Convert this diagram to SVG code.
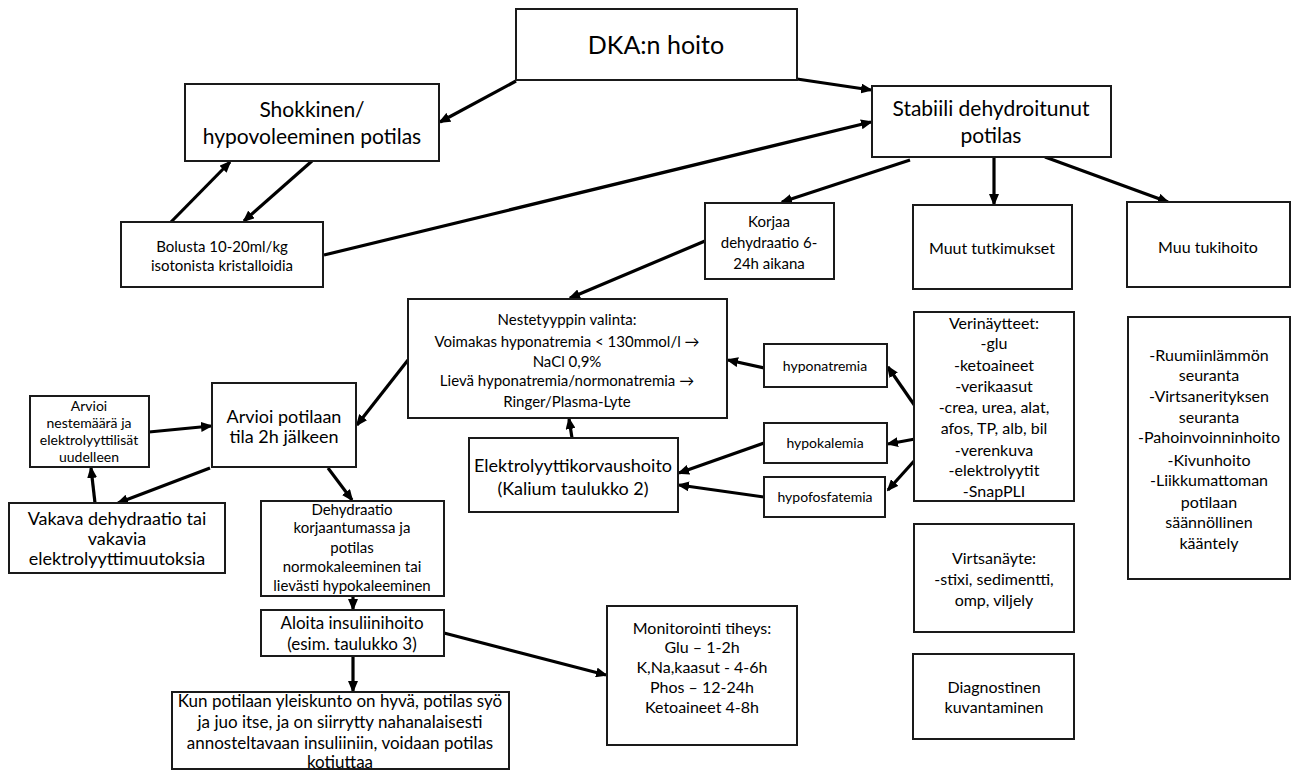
<svg xmlns="http://www.w3.org/2000/svg" width="1296" height="771" viewBox="0 0 1296 771">
<defs>
<marker id="ah" markerUnits="userSpaceOnUse" markerWidth="12" markerHeight="10" refX="10" refY="5" orient="auto">
<path d="M0,0 L12,5 L0,10 z" fill="#000"/>
</marker>
<style>
rect{fill:#fff;stroke:#1a1a1a;stroke-width:2}
text{font-family:Lato,"Liberation Sans",sans-serif;fill:#000;text-anchor:middle}
.c line{stroke:#000;stroke-width:3.2;marker-end:url(#ah)}
.f25{font-size:25px}.f21{font-size:21px}.f18{font-size:18px}.f17{font-size:17px}.f16{font-size:16px}.f15{font-size:15px}.f14{font-size:14px}
</style>
</defs>
<rect x="0" y="0" width="1296" height="771" style="fill:#fff;stroke:none"/>
<g class="c" id="connectors">
<line x1="516" y1="81" x2="440" y2="122"/>
<line x1="797" y1="79" x2="871" y2="90"/>
<line x1="312" y1="161" x2="244" y2="221"/>
<line x1="171" y1="222" x2="230" y2="162"/>
<line x1="324" y1="255" x2="871" y2="122"/>
<line x1="910" y1="160" x2="782" y2="202"/>
<line x1="994" y1="157" x2="994" y2="204"/>
<line x1="1045" y1="157" x2="1168" y2="202"/>
<line x1="705" y1="241" x2="570" y2="298"/>
<line x1="408" y1="360" x2="357" y2="425"/>
<line x1="149" y1="432" x2="211" y2="426"/>
<line x1="210" y1="468" x2="118" y2="503"/>
<line x1="95" y1="503" x2="91" y2="468"/>
<line x1="328" y1="468" x2="352" y2="500"/>
<line x1="353" y1="596" x2="353" y2="609"/>
<line x1="353" y1="656" x2="353" y2="691"/>
<line x1="444" y1="633" x2="606" y2="675"/>
<line x1="764" y1="368" x2="728" y2="360"/>
<line x1="572" y1="438" x2="569" y2="419"/>
<line x1="764" y1="443" x2="679" y2="473"/>
<line x1="764" y1="497" x2="679" y2="485"/>
<line x1="915" y1="406" x2="888" y2="367"/>
<line x1="915" y1="439" x2="888" y2="444"/>
<line x1="915" y1="460" x2="888" y2="490"/>
</g>
<g id="dka"><rect x="516" y="9" width="281" height="71"/><text class="f25" x="656" y="54">DKA:n hoito</text></g>
<g id="shokkinen"><rect x="185" y="84" width="254" height="77"/><text class="f21" x="312" y="117">Shokkinen/</text><text class="f21" x="312" y="144">hypovoleeminen potilas</text></g>
<g id="stabiili"><rect x="872" y="86" width="239" height="71"/><text class="f21" x="991" y="116">Stabiili dehydroitunut</text><text class="f21" x="991" y="143">potilas</text></g>
<g id="bolusta"><rect x="121" y="222" width="202" height="65"/><text class="f15" x="222" y="252">Bolusta 10-20ml/kg</text><text class="f15" x="222" y="271">isotonista kristalloidia</text></g>
<g id="korjaa"><rect x="705" y="203" width="129" height="76"/><text class="f15" x="769" y="227">Korjaa</text><text class="f15" x="769" y="248">dehydraatio 6-</text><text class="f15" x="769" y="269">24h aikana</text></g>
<g id="muut"><rect x="913" y="205" width="159" height="84"/><text class="f16" x="992" y="254">Muut tutkimukset</text></g>
<g id="muutuki"><rect x="1127" y="202" width="163" height="85"/><text class="f16" x="1208" y="253">Muu tukihoito</text></g>
<g id="nestetyyppi"><rect x="408" y="299" width="319" height="119"/>
<text class="f15" x="567" y="325">Nestetyyppin valinta:</text>
<text class="f15" x="567" y="347">Voimakas hyponatremia &lt; 130mmol/l →</text>
<text class="f15" x="567" y="367">NaCl 0,9%</text>
<text class="f15" x="567" y="386">Lievä hyponatremia/normonatremia →</text>
<text class="f15" x="567" y="407">Ringer/Plasma-Lyte</text></g>
<g id="hyponatremia"><rect x="764" y="344" width="123" height="43"/><text class="f14" x="825" y="371">hyponatremia</text></g>
<g id="hypokalemia"><rect x="764" y="423" width="123" height="40"/><text class="f14" x="825" y="448">hypokalemia</text></g>
<g id="hypofosfatemia"><rect x="764" y="477" width="121" height="40"/><text class="f14" x="825" y="502">hypofosfatemia</text></g>
<g id="elektrolyytti"><rect x="469" y="438" width="209" height="74"/><text class="f18" x="573" y="472">Elektrolyyttikorvaushoito</text><text class="f18" x="573" y="495">(Kalium taulukko 2)</text></g>
<g id="verinaytteet"><rect x="914" y="312" width="160" height="189"/>
<text class="f16" x="994" y="329">Verinäytteet:</text>
<text class="f16" x="994" y="349">-glu</text>
<text class="f16" x="994" y="371">-ketoaineet</text>
<text class="f16" x="994" y="392">-verikaasut</text>
<text class="f16" x="994" y="413">-crea, urea, alat,</text>
<text class="f16" x="994" y="434">afos, TP, alb, bil</text>
<text class="f16" x="994" y="456">-verenkuva</text>
<text class="f16" x="994" y="476">-elektrolyytit</text>
<text class="f16" x="994" y="497">-SnapPLI</text></g>
<g id="tukihoito"><rect x="1128" y="317" width="162" height="262"/>
<text class="f16" x="1209" y="361">-Ruumiinlämmön</text>
<text class="f16" x="1209" y="381">seuranta</text>
<text class="f16" x="1209" y="402">-Virtsanerityksen</text>
<text class="f16" x="1209" y="423">seuranta</text>
<text class="f16" x="1209" y="443">-Pahoinvoinninhoito</text>
<text class="f16" x="1209" y="466">-Kivunhoito</text>
<text class="f16" x="1209" y="486">-Liikkumattoman</text>
<text class="f16" x="1209" y="508">potilaan</text>
<text class="f16" x="1209" y="528">säännöllinen</text>
<text class="f16" x="1209" y="549">kääntely</text></g>
<g id="arvioineste"><rect x="30" y="396" width="119" height="71"/>
<text class="f14" x="89" y="411">Arvioi</text>
<text class="f14" x="89" y="428">nestemäärä ja</text>
<text class="f14" x="89" y="445">elektrolyyttilisät</text>
<text class="f14" x="89" y="462">uudelleen</text></g>
<g id="arvioipotilas"><rect x="212" y="383" width="144" height="84"/><text class="f18" x="284" y="423">Arvioi potilaan</text><text class="f18" x="284" y="443">tila 2h jälkeen</text></g>
<g id="vakava"><rect x="9" y="503" width="216" height="70"/><text class="f18" x="117" y="525">Vakava dehydraatio tai</text><text class="f18" x="117" y="545">vakavia</text><text class="f18" x="117" y="565">elektrolyyttimuutoksia</text></g>
<g id="dehydraatio"><rect x="261" y="501" width="183" height="95"/>
<text class="f15" x="352" y="515">Dehydraatio</text>
<text class="f15" x="352" y="533">korjaantumassa ja</text>
<text class="f15" x="352" y="553">potilas</text>
<text class="f15" x="352" y="572">normokaleeminen tai</text>
<text class="f15" x="352" y="591">lievästi hypokaleeminen</text></g>
<g id="aloita"><rect x="261" y="610" width="183" height="46"/><text class="f17" x="352" y="629">Aloita insuliinihoito</text><text class="f17" x="352" y="650">(esim. taulukko 3)</text></g>
<g id="kun"><rect x="172" y="692" width="337" height="77"/>
<text class="f17" x="340" y="707">Kun potilaan yleiskunto on hyvä, potilas syö</text>
<text class="f17" x="340" y="728">ja juo itse, ja on siirrytty nahanalaisesti</text>
<text class="f17" x="340" y="749">annosteltavaan insuliiniin, voidaan potilas</text>
<text class="f17" x="340" y="768">kotiuttaa</text></g>
<g id="monitorointi"><rect x="607" y="606" width="190" height="139"/>
<text class="f16" x="702" y="634">Monitorointi tiheys:</text>
<text class="f16" x="702" y="653">Glu – 1-2h</text>
<text class="f16" x="702" y="673">K,Na,kaasut - 4-6h</text>
<text class="f16" x="702" y="693">Phos – 12-24h</text>
<text class="f16" x="702" y="713">Ketoaineet 4-8h</text></g>
<g id="virtsanayte"><rect x="914" y="524" width="160" height="108"/>
<text class="f16" x="994" y="564">Virtsanäyte:</text>
<text class="f16" x="994" y="585">-stixi, sedimentti,</text>
<text class="f16" x="994" y="606">omp, viljely</text></g>
<g id="diagnostinen"><rect x="913" y="654" width="161" height="85"/>
<text class="f16" x="994" y="693">Diagnostinen</text>
<text class="f16" x="994" y="713">kuvantaminen</text></g>
</svg>
